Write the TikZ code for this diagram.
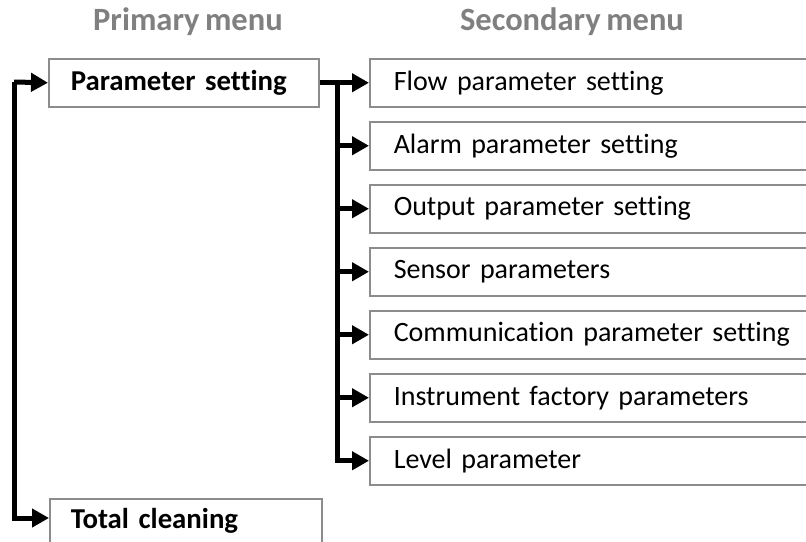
\documentclass[tikz,border=0pt]{standalone}
\usepackage{fontspec}
\setmainfont{Carlito}[Ligatures=NoCommon, WordSpace=0.75]
\usetikzlibrary{arrows.meta}
\definecolor{boxgray}{HTML}{8C8C8C}
\definecolor{headgray}{HTML}{808080}
\tikzset{
  box/.style={draw=boxgray, line width=1.5pt, rectangle, minimum height=48pt, inner xsep=0pt, align=left, anchor=north west, font=\fontsize{28}{32}\selectfont},
  prim/.style={box, font=\fontsize{28.8}{32}\selectfont\bfseries},
  sec/.style={box, minimum width=437pt, text width=437pt},
  head/.style={text=headgray, font=\fontsize{32.5}{36}\selectfont\bfseries},
  arr/.style={line width=5pt, -{Triangle[length=17pt,width=18pt]}}
}
\begin{document}
\begin{tikzpicture}[x=1pt,y=-1pt]
\useasboundingbox (0,0) rectangle (806,541);
\begin{scope}
\clip (0,0) rectangle (806,541);
\node[head] (h1) at (188,22) {Primary menu};
\node[head] (h2) at (572,22) {Secondary menu};
\node[prim, minimum width=270pt, text width=270pt] (ps) at (48,58) {\hspace*{22pt}Parameter setting};
\node[prim, minimum width=272pt, text width=272pt, minimum height=44pt] (tc) at (49,498) {\hspace*{21pt}Total cleaning};
\node[sec] (s1) at (369,58) {\hspace*{24pt}Flow parameter setting};
\node[sec] (s2) at (369,121) {\hspace*{24pt}Alarm parameter setting};
\node[sec] (s3) at (369,184) {\hspace*{24pt}Output parameter setting};
\node[sec] (s4) at (369,247) {\hspace*{24pt}Sensor parameters};
\node[sec] (s5) at (369,310) {\hspace*{24pt}Communication parameter setting};
\node[sec] (s6) at (369,373) {\hspace*{24pt}Instrument factory parameters};
\node[sec] (s7) at (369,436) {\hspace*{24pt}Level parameter};
\end{scope}
\coordinate (L) at (14,82);
\coordinate (T) at (337,82);
\draw[arr] (L) -- (ps.west);
\draw[arr] (L) |- (tc.west |- 0,518);
\draw[arr] (ps.east) -- (s1.west);
\foreach \s in {s2,s3,s4,s5,s6,s7}{
  \draw[arr] (T) |- (\s.west);
}
\end{tikzpicture}
\end{document}
